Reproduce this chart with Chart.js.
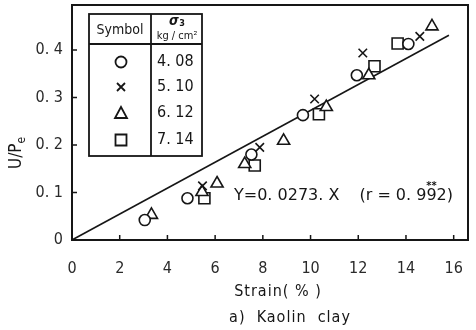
<!DOCTYPE html>
<html>
<head>
<meta charset="utf-8">
<script src="https://cdn.jsdelivr.net/npm/chart.js@4"></script>
<style>
    html, body { margin: 0; padding: 0; background: #fff; }
    #wrap { width: 476px; height: 330px; }
</style>
</head>
<body>
<div id="wrap"><canvas id="graf"></canvas></div>
<script>
// Strain (%) vs U/Pe for each confining pressure
const circleX = [3.05, 4.84, 7.52, 9.68, 11.94, 14.1];
const circleY = [0.042, 0.088, 0.180, 0.263, 0.347, 0.413];
const crossX = [5.47, 7.87, 10.17, 12.19, 14.58];
const crossY = [0.114, 0.195, 0.297, 0.394, 0.429];
const triangleX = [3.33, 5.45, 6.08, 7.24, 8.87, 10.66, 12.44, 15.09];
const triangleY = [0.053, 0.101, 0.119, 0.160, 0.209, 0.280, 0.347, 0.450];
const squareX = [5.55, 7.66, 10.35, 12.68, 13.65];
const squareY = [0.088, 0.157, 0.265, 0.366, 0.414];

const sigmaLabels = ['4. 08', '5. 10', '6. 12', '7. 14'];
const slope = 0.0273;
const rValue = '0. 992';
const fitRangeX = [0, 15.8];

const xTicks = [0, 2, 4, 6, 8, 10, 12, 14, 16];
const yTicks = [0, 0.1, 0.2, 0.3, 0.4];

const ink = '#161616';
const font = '"DejaVu Sans Condensed", "DejaVu Sans", sans-serif';
const wideFont = '"DejaVu Sans", sans-serif';

function toPoints(xs, ys) {
    return xs.map((x, i) => ({ x: x, y: ys[i] }));
}

function markerSet(xs, ys, style, radius) {
    return {
        type: 'scatter',
        data: toPoints(xs, ys),
        pointStyle: style,
        pointRadius: radius,
        pointBackgroundColor: style === 'crossRot' ? ink : '#fff',
        pointBorderColor: ink,
        pointBorderWidth: 1.6
    };
}

// marker shapes used in the table, same order as the datasets
function drawSymbol(ctx, kind, x, y) {
    ctx.beginPath();
    if (kind === 0) {
        ctx.arc(x, y, 5.5, 0, Math.PI * 2);
    } else if (kind === 1) {
        ctx.moveTo(x - 4, y - 4); ctx.lineTo(x + 4, y + 4);
        ctx.moveTo(x + 4, y - 4); ctx.lineTo(x - 4, y + 4);
    } else if (kind === 2) {
        ctx.moveTo(x, y - 6); ctx.lineTo(x + 6, y + 5); ctx.lineTo(x - 6, y + 5); ctx.closePath();
    } else {
        ctx.rect(x - 5.5, y - 5.5, 11, 11);
    }
    ctx.stroke();
}

// frame, inward ticks, symbol table and text
const decor = {
    id: 'decor',
    afterDraw(chart) {
        const ctx = chart.ctx;
        const area = chart.chartArea;
        const xs = chart.scales.x;
        const ys = chart.scales.y;
        ctx.save();
        ctx.strokeStyle = ink;
        ctx.fillStyle = ink;

        ctx.lineWidth = 2;
        ctx.strokeRect(area.left, area.top, area.right - area.left, area.bottom - area.top);

        ctx.lineWidth = 1.5;
        ctx.beginPath();
        xTicks.forEach(v => {
            const px = xs.getPixelForValue(v);
            ctx.moveTo(px, area.bottom);
            ctx.lineTo(px, area.bottom - 5);
        });
        yTicks.forEach(v => {
            const py = ys.getPixelForValue(v);
            ctx.moveTo(area.left, py);
            ctx.lineTo(area.left + 5, py);
        });
        ctx.stroke();

        // symbol table
        const tl = 89, tr = 202, tt = 14, tb = 156, head = 44, div = 151;
        ctx.lineWidth = 1.8;
        ctx.strokeRect(tl, tt, tr - tl, tb - tt);
        ctx.beginPath();
        ctx.moveTo(tl, head); ctx.lineTo(tr, head);
        ctx.moveTo(div, tt); ctx.lineTo(div, tb);
        ctx.stroke();

        ctx.textBaseline = 'middle';
        ctx.textAlign = 'center';
        ctx.font = '14px ' + font;
        ctx.fillText('Symbol', (tl + div) / 2, 30);
        ctx.font = 'italic bold 14px ' + font;
        ctx.fillText('σ', 174, 21);
        ctx.font = 'bold 9px ' + font;
        ctx.fillText('3', 182, 24);
        ctx.font = '11px ' + font;
        ctx.fillText('kg / cm²', 177, 36);

        const rows = [62, 87, 113, 140];
        ctx.lineWidth = 1.8;
        ctx.textAlign = 'left';
        ctx.font = '16px ' + font;
        rows.forEach((ry, i) => {
            drawSymbol(ctx, i, 121, ry);
            ctx.fillText(sigmaLabels[i], 157, ry);
        });

        // regression equation
        ctx.font = '16px ' + wideFont;
        const eq = 'Y=0. ' + String(slope).slice(2) + '. X';
        ctx.fillText(eq, 234, 196);
        const digits = rValue.slice(3);
        ctx.textAlign = 'right';
        ctx.fillText(digits + ')', 453, 196);
        const tailW = ctx.measureText(digits + ')').width;
        const dw = ctx.measureText(digits).width;
        ctx.fillText('(r = 0. ', 453 - tailW, 196);
        ctx.font = 'bold 11px ' + font;
        ctx.textAlign = 'center';
        ctx.fillText('**', 453 - tailW + dw / 2, 186);

        // axis titles and caption
        ctx.font = '16px ' + font;
        ctx.letterSpacing = '1px';
        ctx.fillText('Strain( % )', 278, 292);
        ctx.fillText('a)  Kaolin  clay', 290, 318);
        ctx.letterSpacing = '0px';

        ctx.translate(17, 142);
        ctx.rotate(-Math.PI / 2);
        ctx.textAlign = 'left';
        ctx.font = '17px ' + font;
        const uw = ctx.measureText('U/P').width;
        ctx.fillText('U/P', -27, 0);
        ctx.font = '12px ' + font;
        ctx.fillText('e', -27 + uw, 5);
        ctx.restore();
    }
};

new Chart(document.getElementById('graf'), {
    type: 'scatter',
    data: {
        datasets: [
            markerSet(circleX, circleY, 'circle', 5.5),
            markerSet(crossX, crossY, 'crossRot', 6),
            markerSet(triangleX, triangleY, 'triangle', 7),
            markerSet(squareX, squareY, 'rect', 7.8),
            {
                type: 'line',
                data: toPoints(fitRangeX, fitRangeX.map(x => slope * x)),
                borderColor: ink,
                borderWidth: 1.6,
                pointRadius: 0,
                fill: false
            }
        ]
    },
    options: {
        responsive: true,
        maintainAspectRatio: false,
        animation: false,
        layout: { autoPadding: false, padding: { top: 5, right: 8, left: 0, bottom: 0 } },
        plugins: {
            legend: { display: false },
            tooltip: { enabled: false }
        },
        scales: {
            x: {
                type: 'linear',
                min: 0,
                max: 16.6,
                afterBuildTicks: scale => { scale.ticks = xTicks.map(v => ({ value: v })); },
                afterFit: scale => {
                    scale.height = 90;
                    scale.paddingLeft = 0;
                    scale.paddingRight = 0;
                },
                grid: { display: false, drawTicks: false },
                border: { display: false },
                ticks: {
                    autoSkip: false,
                    maxRotation: 0,
                    padding: 19,
                    color: '#2a2a2a',
                    font: { family: font, size: 16 }
                }
            },
            y: {
                type: 'linear',
                min: 0,
                max: 0.495,
                afterBuildTicks: scale => { scale.ticks = yTicks.map(v => ({ value: v })); },
                afterFit: scale => {
                    scale.width = 72;
                    scale.paddingTop = 0;
                    scale.paddingBottom = 0;
                },
                grid: { display: false, drawTicks: false },
                border: { display: false },
                ticks: {
                    padding: 9,
                    color: '#2a2a2a',
                    font: { family: font, size: 16 },
                    callback: v => v === 0 ? '0' : v.toFixed(1).replace('.', '. ')
                }
            }
        }
    },
    plugins: [decor]
});
</script>
</body>
</html>
